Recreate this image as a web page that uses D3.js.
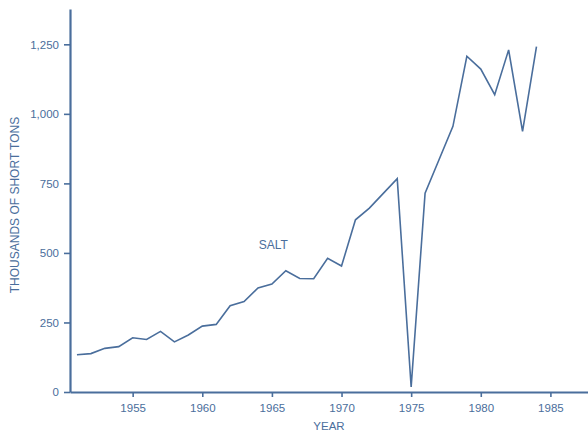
<!DOCTYPE html>
<html>
<head>
<meta charset="utf-8">
<script src="https://cdn.jsdelivr.net/npm/d3@7"></script>
<style>
  body { margin: 0; background: #fff; }
  text { font-family: "Liberation Sans", Arial, sans-serif; }
</style>
</head>
<body>
<svg width="588" height="435"></svg>
<script>
var years = [1951, 1952, 1953, 1954, 1955, 1956, 1957, 1958, 1959, 1960,
             1961, 1962, 1963, 1964, 1965, 1966, 1967, 1968, 1969, 1970,
             1971, 1972, 1973, 1974, 1975, 1976, 1977, 1978, 1979, 1980,
             1981, 1982, 1983, 1984];
var salt = [134, 138, 157, 163, 195, 189, 218, 180, 205, 237,
            243, 310, 325, 374, 388, 436, 408, 407, 481, 453,
            619, 661, 714, 767, 18, 715, 835, 955, 1207, 1161,
            1069, 1230, 937, 1242];
var xTicks = [1955, 1960, 1965, 1970, 1975, 1980, 1985];
var yTicks = [0, 250, 500, 750, 1000, 1250];

var blue = "#4a6e9c";

var svg = d3.select("svg"),
    mLeft = 70, mRight = 588, mTop = 9, mBottom = 392;

var x = d3.scaleLinear().domain([1950.5, 1987.7]).range([mLeft, mRight]);
var y = d3.scaleLinear().domain([0, 1377]).range([mBottom, mTop]);

// y axis
var yAxis = svg.append("g")
    .attr("transform", "translate(" + mLeft + ",0)")
    .call(d3.axisLeft(y).tickValues(yTicks).tickSize(6).tickSizeOuter(0).tickFormat(d3.format(",")));

// x axis
var xAxis = svg.append("g")
    .attr("transform", "translate(0," + mBottom + ")")
    .call(d3.axisBottom(x).tickValues(xTicks).tickSize(5).tickSizeOuter(0).tickFormat(d3.format("d")));

[yAxis, xAxis].forEach(function(a) {
  a.select(".domain").attr("stroke", blue).attr("stroke-width", 2.2);
  a.selectAll(".tick line").attr("stroke", blue).attr("stroke-width", 1.6);
  a.selectAll(".tick text").attr("fill", blue).style("font-size", "11.5px")
    .style("font-family", "'Liberation Sans', Arial, sans-serif");
});
xAxis.selectAll(".tick text").attr("dy", "1.0em");
yAxis.selectAll(".tick text").attr("x", -11);

// data line
var line = d3.line()
    .x(function(d, i) { return x(years[i]); })
    .y(function(d) { return y(d); });

svg.append("path")
    .datum(salt)
    .attr("fill", "none")
    .attr("stroke", blue)
    .attr("stroke-width", 1.6)
    .attr("stroke-linejoin", "miter")
    .attr("d", line);

// labels
svg.append("text")
    .attr("x", x(1965.1)).attr("y", y(515))
    .attr("text-anchor", "middle")
    .attr("fill", blue)
    .style("font-size", "12px")
    .text("SALT");

svg.append("text")
    .attr("x", 329).attr("y", 430)
    .attr("text-anchor", "middle")
    .attr("fill", blue)
    .style("font-size", "11.5px")
    .text("YEAR");

svg.append("text")
    .attr("transform", "translate(19," + 205 + ")rotate(-90)")
    .attr("text-anchor", "middle")
    .attr("fill", blue)
    .style("font-size", "12px")
    .text("THOUSANDS OF SHORT TONS");
</script>
</body>
</html>
